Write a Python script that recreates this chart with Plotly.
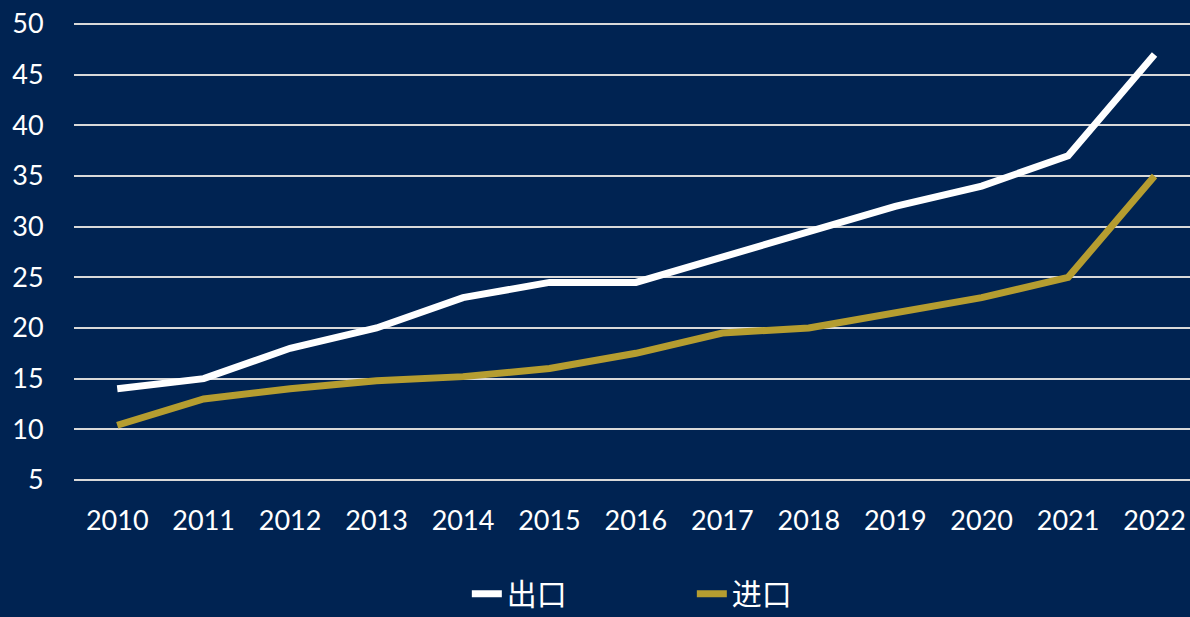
import plotly.graph_objects as go

years = ["2010", "2011", "2012", "2013", "2014", "2015", "2016",
         "2017", "2018", "2019", "2020", "2021", "2022"]
export_vals = [14, 15, 18, 20, 23, 24.5, 24.5, 27, 29.5, 32, 34, 37, 47]
import_vals = [10.4, 13, 14, 14.8, 15.2, 16, 17.5, 19.5, 20, 21.5, 23, 25, 35]
y_ticks = [5, 10, 15, 20, 25, 30, 35, 40, 45, 50]

BG = "#002352"
WHITE = "#FFFFFF"
GOLD = "#B59D30"
GRID = "#D9D9D9"
FONT = "Lato, Noto Sans CJK SC, sans-serif"

fig = go.Figure()
fig.add_trace(go.Scatter(x=years, y=export_vals, name="出口", mode="lines",
                         line=dict(color=WHITE, width=7)))
fig.add_trace(go.Scatter(x=years, y=import_vals, name="进口", mode="lines",
                         line=dict(color=GOLD, width=7)))

fig.update_layout(
    width=1190, height=617,
    paper_bgcolor=BG, plot_bgcolor=BG,
    margin=dict(l=74, r=0, t=22, b=135, autoexpand=False),
    font=dict(family=FONT, color="#FFFFFF", size=27),
    showlegend=True,
    legend=dict(orientation="h", x=0.352, xanchor="left", y=-0.243, yanchor="middle",
                font=dict(size=30, family="Noto Sans CJK SC, sans-serif"),
                bgcolor="rgba(0,0,0,0)", entrywidth=180, entrywidthmode="pixels"),
    xaxis=dict(type="category", range=[-0.5, 12.41], showgrid=False, showline=False,
               zeroline=False, ticks="outside", ticklen=15, tickcolor=BG,
               automargin=False,
               tickfont=dict(size=27, family=FONT, color="#FFFFFF")),
    yaxis=dict(range=[4.8, 50.2], tickvals=y_ticks, showgrid=True, gridcolor=GRID,
               gridwidth=2, zeroline=False, showline=False, ticks="outside",
               ticklen=24, tickcolor=BG, automargin=False,
               tickfont=dict(size=27, family=FONT, color="#FFFFFF")),
)

fig.write_html("out.html", config={"displayModeBar": False},
               post_script="document.body.style.margin='0';document.body.style.background='#002352';")
